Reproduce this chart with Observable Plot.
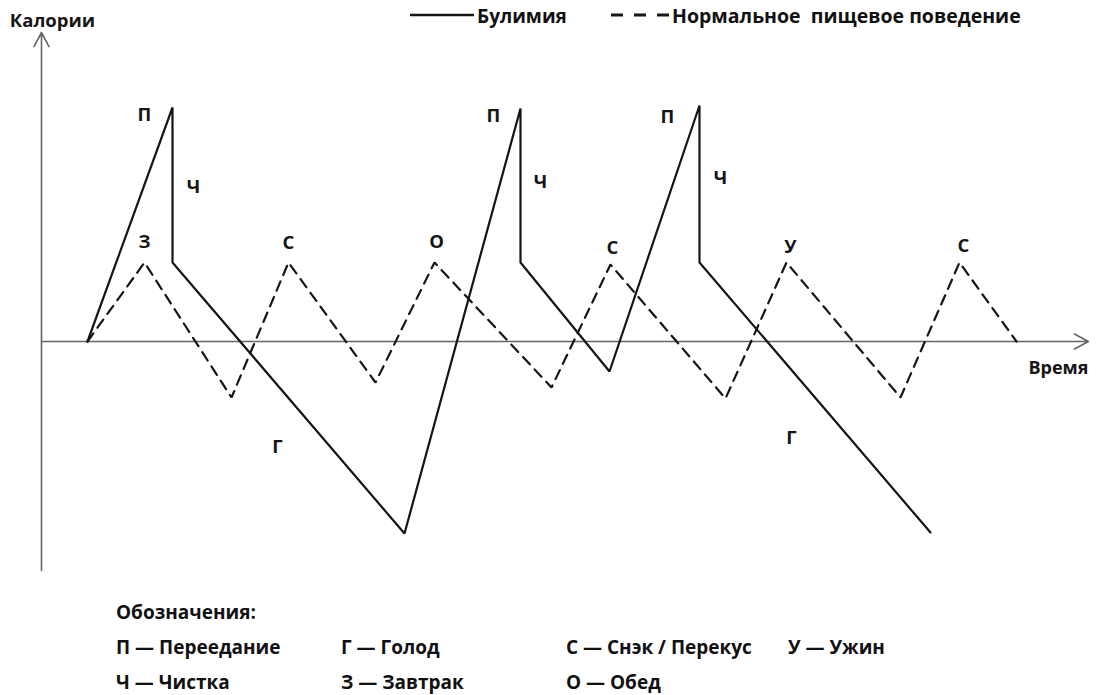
<!DOCTYPE html>
<html>
<head>
<meta charset="utf-8">
<script src="https://cdn.jsdelivr.net/npm/d3@7"></script>
<script src="https://cdn.jsdelivr.net/npm/@observablehq/plot@0.6"></script>
<style>
  body { margin: 0; background: #fff; }
  #wrap { position: relative; width: 1098px; height: 695px; font-family: "Open Sans", sans-serif; font-weight: 700; color: #111; }
  .t { position: absolute; white-space: pre; line-height: 1; transform: translateY(-50%); }
</style>
</head>
<body>
<div id="wrap"></div>
<script>
// Time axis (arbitrary units) and calories (arbitrary units, 0 = baseline)
const bulimiaT = [4.6, 13.1, 13.1, 36.3, 47.9, 47.9, 56.8, 65.8, 65.8, 88.9];
const bulimiaC = [0, 23.4, 7.9, -19.2, 23.3, 7.9, -3.0, 23.6, 7.9, -19.1];

const normalT = [4.6, 10.3, 19.0, 24.7, 33.4, 39.3, 51.0, 56.9, 68.4, 74.5, 85.9, 91.8, 97.5];
const normalC = [0, 7.9, -5.6, 7.9, -4.1, 7.9, -4.6, 7.7, -5.7, 7.9, -5.6, 7.9, 0];

const labelText = ["П", "П", "П", "Ч", "Ч", "Ч", "З", "С", "О", "С", "У", "С", "Г", "Г"];
const labelT = [10.3, 45.2, 62.6, 15.2, 49.9, 67.9, 10.3, 24.7, 39.5, 57.1, 74.9, 92.2, 23.6, 75.0];
const labelC = [22.6, 22.5, 22.4, 15.4, 15.9, 16.3, 9.9, 9.8, 9.9, 9.3, 9.4, 9.5, -10.6, -9.7];

const xDomain = [0, 104.7];
const yDomain = [-22.9, 30.9];

const seriesNames = ["Булимия", "Нормальное  пищевое поведение"];
const axisNames = ["Калории", "Время"];
const legendTitle = "Обозначения:";
const legendRows = [
  ["П — Переедание", "Г — Голод", "С — Снэк / Перекус", "У — Ужин"],
  ["Ч — Чистка", "З — Завтрак", "О — Обед"]
];

const ink = "#151515";
const axisInk = "#666";

const chart = Plot.plot({
  width: 1098,
  height: 695,
  marginLeft: 41,
  marginRight: 10,
  marginTop: 32,
  marginBottom: 125,
  x: { domain: xDomain, axis: null },
  y: { domain: yDomain, axis: null },
  style: { fontFamily: "Open Sans", background: "#fff" },
  marks: [
    Plot.arrow([0], { x1: xDomain[0], y1: 0, x2: xDomain[1], y2: 0, stroke: axisInk, strokeWidth: 1.6, headLength: 15, headAngle: 56 }),
    Plot.arrow([0], { x1: 0, y1: yDomain[0], x2: 0, y2: yDomain[1], stroke: axisInk, strokeWidth: 1.6, headLength: 15, headAngle: 56 }),
    Plot.line(normalT, { x: normalT, y: normalC, stroke: ink, strokeWidth: 2.2, strokeDasharray: "10,7", strokeLinejoin: "miter" }),
    Plot.line(bulimiaT, { x: bulimiaT, y: bulimiaC, stroke: ink, strokeWidth: 2.2, strokeLinejoin: "miter" }),
    Plot.text(labelText, { x: labelT, y: labelC, text: d => d, fontSize: 18.5, fontWeight: 700, fill: ink }),
    Plot.text([axisNames[0]], { x: 0, y: yDomain[1], text: d => d, dx: 11, dy: -11, fontSize: 18.5, fontWeight: 700, fill: ink }),
    Plot.text([axisNames[1]], { x: xDomain[1], y: 0, text: d => d, dy: 27, textAnchor: "end", fontSize: 18, fontWeight: 700, fill: ink })
  ]
});

const wrap = document.getElementById("wrap");
wrap.appendChild(chart);

function addText(txt, left, top, size) {
  const d = document.createElement("div");
  d.className = "t";
  d.textContent = txt;
  d.style.left = left + "px";
  d.style.top = top + "px";
  d.style.fontSize = size + "px";
  wrap.appendChild(d);
  return d;
}

// Top legend swatches
const sw = document.createElementNS("http://www.w3.org/2000/svg", "svg");
sw.setAttribute("width", 1098);
sw.setAttribute("height", 30);
sw.style.position = "absolute";
sw.style.left = "0px";
sw.style.top = "0px";
sw.innerHTML =
  `<line x1="410" y1="15" x2="474" y2="15" stroke="${ink}" stroke-width="2.5"/>` +
  `<line x1="611" y1="15" x2="671" y2="15" stroke="${ink}" stroke-width="3" stroke-dasharray="12,11"/>`;
wrap.appendChild(sw);
addText(seriesNames[0], 477, 16, 19);
addText(seriesNames[1], 672, 16, 19.5);

// Bottom notation
addText(legendTitle, 116, 612, 19);
const colX = [116, 341, 566, 788];
const rowY = [647, 682];
legendRows.forEach((row, r) => row.forEach((txt, c) => addText(txt, colX[c], rowY[r], 19)));
</script>
</body>
</html>
